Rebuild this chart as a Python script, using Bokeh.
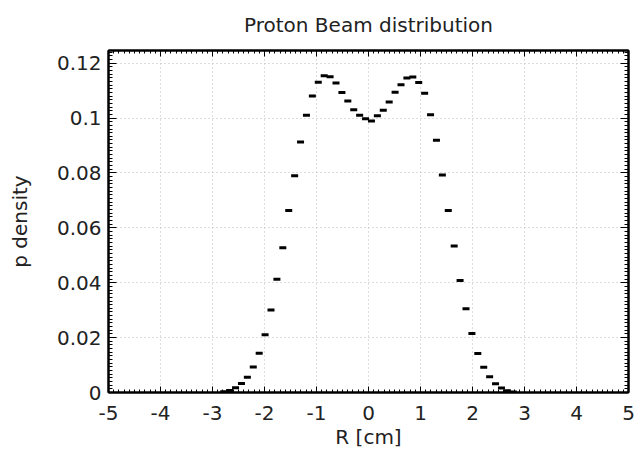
from bokeh.plotting import figure
from bokeh.models import (LinearAxis, SingleIntervalTicker, CustomJSTickFormatter,
                          Range1d, ColumnDataSource, Grid)
from bokeh.embed import file_html
from bokeh.resources import INLINE

# bin centres (cm) of the histogram, left to right
r_cm = [-2.7841, -2.6705, -2.5568, -2.4432, -2.3295, -2.2159, -2.1023, -1.9886,
        -1.8750, -1.7614, -1.6477, -1.5341, -1.4205, -1.3068, -1.1932, -1.0795,
        -0.9659, -0.8523, -0.7386, -0.6250, -0.5114, -0.3977, -0.2841, -0.1705,
        -0.0568,
        0.0568, 0.1705, 0.2841, 0.3977, 0.5114, 0.6250, 0.7386, 0.8523,
        0.9659, 1.0795, 1.1932, 1.3068, 1.4205, 1.5341, 1.6477, 1.7614,
        1.8750, 1.9886, 2.1023, 2.2159, 2.3295, 2.4432, 2.5568, 2.6705, 2.7841]

# proton density per bin
density = [0.0003, 0.0007, 0.0017, 0.0033, 0.0056, 0.0093, 0.0143, 0.0210,
           0.0301, 0.0413, 0.0527, 0.0663, 0.0790, 0.0913, 0.1010, 0.1080,
           0.1130, 0.1154, 0.1150, 0.1128, 0.1093, 0.1062, 0.1030, 0.1010,
           0.0997,
           0.0989, 0.1008, 0.1028, 0.1058, 0.1094, 0.1121, 0.1146, 0.1149,
           0.1129, 0.1090, 0.1012, 0.0919, 0.0792, 0.0663, 0.0534, 0.0408,
           0.0305, 0.0215, 0.0142, 0.0092, 0.0057, 0.0032, 0.0016, 0.0006, 0.0002]

title_text = "Proton Beam distribution"
x_label = "R [cm]"
y_label = "p density"

FONT = "DejaVu Sans"
FS = "20px"

src = ColumnDataSource(dict(r=r_cm, d=density))

p = figure(width=636, height=451, output_backend="svg", toolbar_location=None,
           x_range=Range1d(-5, 5), y_range=Range1d(0, 0.1246),
           min_border_left=108, min_border_right=8, min_border_top=50,
           min_border_bottom=59, x_axis_type=None, y_axis_type=None,
           background_fill_color="white", border_fill_color="white")

p.title.text = title_text
p.title.align = "center"
p.title.vertical_align = "top"
p.title.text_font = FONT
p.title.text_font_size = FS
p.title.text_font_style = "normal"
p.title.text_color = "#222222"
p.title.standoff = 24

p.outline_line_color = "black"
p.outline_line_width = 2

yfmt = CustomJSTickFormatter(code="""
    var s = tick.toFixed(2);
    s = s.replace(/0+$/, '').replace(/\\.$/, '');
    return s;
""")
xfmt = CustomJSTickFormatter(code="return tick.toFixed(0);")
blank = CustomJSTickFormatter(code="return '';")


def style_axis(ax, major_in, minor_in):
    ax.axis_line_color = "black"
    ax.axis_line_width = 2
    ax.major_tick_in = major_in
    ax.major_tick_out = 0
    ax.minor_tick_in = minor_in
    ax.minor_tick_out = 0
    ax.major_tick_line_color = "black"
    ax.minor_tick_line_color = "black"
    ax.major_tick_line_width = 1
    ax.minor_tick_line_width = 1
    ax.major_label_text_font = FONT
    ax.major_label_text_font_size = FS
    ax.major_label_text_color = "#222222"
    ax.axis_label_text_font = FONT
    ax.axis_label_text_font_size = FS
    ax.axis_label_text_font_style = "normal"
    ax.axis_label_text_color = "#222222"


xticker = SingleIntervalTicker(interval=1, num_minor_ticks=10)
yticker = SingleIntervalTicker(interval=0.02, num_minor_ticks=15)

xb = LinearAxis(ticker=xticker, formatter=xfmt, axis_label=x_label)
style_axis(xb, 6, 3)
xb.major_label_standoff = 13
xb.axis_label_standoff = 2
p.add_layout(xb, "below")

xt = LinearAxis(ticker=xticker, formatter=blank)
style_axis(xt, 6, 3)
xt.major_label_standoff = 0
xt.major_label_text_font_size = "0px"
p.add_layout(xt, "above")

yl = LinearAxis(ticker=yticker, formatter=yfmt, axis_label=y_label)
style_axis(yl, 8, 4)
yl.major_label_standoff = 7
yl.axis_label_standoff = 22
p.add_layout(yl, "left")

yr = LinearAxis(ticker=yticker, formatter=blank)
style_axis(yr, 8, 4)
yr.major_label_standoff = 0
yr.major_label_text_font_size = "0px"
p.add_layout(yr, "right")

for dim, tk in ((0, xticker), (1, yticker)):
    g = Grid(dimension=dim, ticker=tk, grid_line_color="#bbbbbb",
             grid_line_dash="1 3", grid_line_width=1)
    p.add_layout(g)

p.rect(x="r", y="d", width=7, height=3, width_units="screen",
       height_units="screen", fill_color="black", line_color=None, source=src)

open("out.html", "w").write(file_html(p, INLINE))
